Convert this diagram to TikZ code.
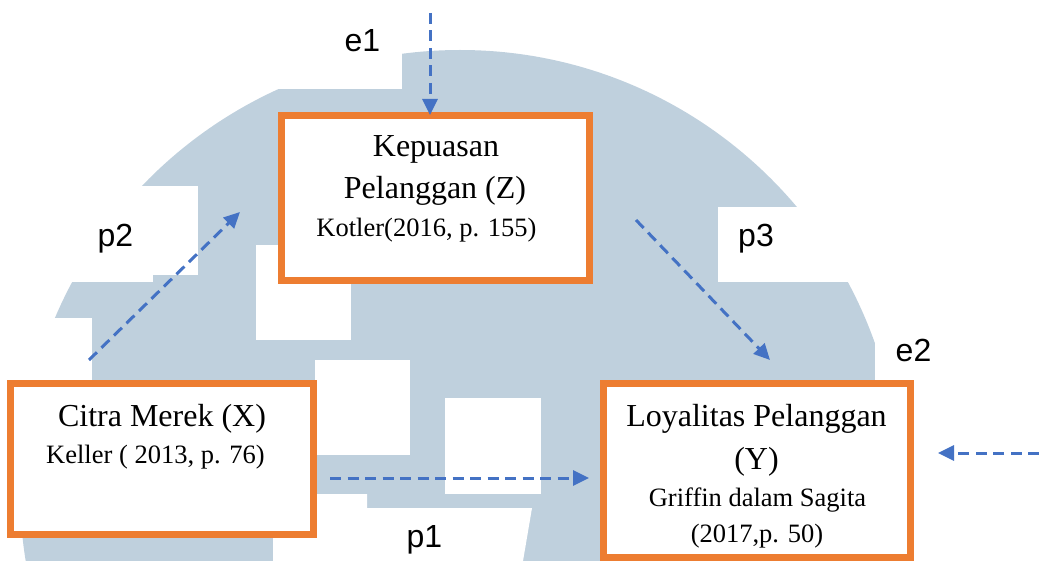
\documentclass[tikz,border=0pt]{standalone}
\usepackage{fontspec}
\setmainfont[Ligatures=CommonOff]{Liberation Serif}
\newfontfamily\labfont{Liberation Sans}
\usetikzlibrary{arrows.meta}
\definecolor{blobcol}{RGB}{191,208,221}
\definecolor{boxor}{RGB}{237,125,49}
\definecolor{arrcol}{RGB}{68,114,196}
\tikzset{
  varbox/.style={draw=boxor, line width=7pt, fill=white, rectangle, inner sep=0pt},
  bigtxt/.style={font=\fontsize{32}{38}\selectfont, inner sep=0pt, anchor=base},
  smalltxt/.style={font=\fontsize{26.5}{32}\selectfont, inner sep=0pt, anchor=base},
  lbl/.style={font=\labfont\fontsize{32}{38}\selectfont, inner sep=0pt, anchor=base},
  link/.style={draw=arrcol, line width=3pt, dash pattern=on 11pt off 6.5pt, -{Triangle[length=16pt,width=15pt]}}
}
\begin{document}
\begin{tikzpicture}[x=1pt,y=-1pt]
\useasboundingbox (0,0) rectangle (1039,561);
% background watermark
\begin{scope}
\clip (0,0) rectangle (1039,561);
\fill[blobcol] (460,490) circle[radius=440];
\fill[white] (0,0) rectangle (402,89);
\fill[white] (0,186) rectangle (198,275);
\fill[white] (0,275) rectangle (153,282);
\fill[white] (0,318) rectangle (92,380);
\fill[white] (256,245) rectangle (351,340);
\fill[white] (315,360) rectangle (410,455);
\fill[white] (445,398) rectangle (541,494);
\fill[white] (273,561) -- (273,538) -- (317,538) -- (317,494) -- (367,494) -- (367,508) -- (532,508) -- (523,561) -- cycle;
\fill[white] (718,207) rectangle (1039,282);
\fill[white] (875,0) rectangle (1039,561);
\end{scope}
% boxes
\node[varbox, minimum width=308pt, minimum height=165pt] (Z) at (435.5,198) {};
\node[varbox, minimum width=303pt, minimum height=151pt] (X) at (162,459) {};
\node[varbox, minimum width=307pt, minimum height=174pt] (Y) at (757,470.5) {};
% box texts
\node[bigtxt] (z1) at (436,157) {Kepuasan};
\node[bigtxt] (z2) at (435,199) {Pelanggan (Z)};
\node[smalltxt] (z3) at (426.5,237) {Kotler(2016, p. 155)};
\node[bigtxt] (x1) at (162,426) {Citra Merek (X)};
\node[smalltxt] (x2) at (155.5,463) {Keller ( 2013, p. 76)};
\node[bigtxt] (y1) at (756.5,426) {Loyalitas Pelanggan};
\node[bigtxt] (y2) at (756.5,469) {(Y)};
\node[smalltxt] (y3) at (757.5,506) {Griffin dalam Sagita};
\node[smalltxt] (y4) at (757,542) {(2017,p. 50)};
% labels
\node[lbl] (le1) at (362.5,52) {e1};
\node[lbl] (lp2) at (115.5,247) {p2};
\node[lbl] (lp3) at (756,247) {p3};
\node[lbl] (le2) at (913.5,362) {e2};
\node[lbl] (lp1) at (424.5,547) {p1};
% connectors
\coordinate (e1s) at (430,13);
\draw[link] (e1s) -- ([yshift=-3pt]e1s |- Z.north);
\coordinate (p2s) at (89,360);
\coordinate (p2e) at (240,212);
\draw[link] (p2s) -- (p2e);
\coordinate (p3s) at (636,220);
\coordinate (p3e) at (770,360);
\draw[link] (p3s) -- (p3e);
\coordinate (p1s) at (330,478);
\coordinate (p1e) at (589,478);
\draw[link] (p1s) -- (p1e);
\coordinate (e2s) at (1039,453);
\coordinate (e2e) at (938,453);
\draw[link] (e2s) -- (e2e);
\end{tikzpicture}
\end{document}
